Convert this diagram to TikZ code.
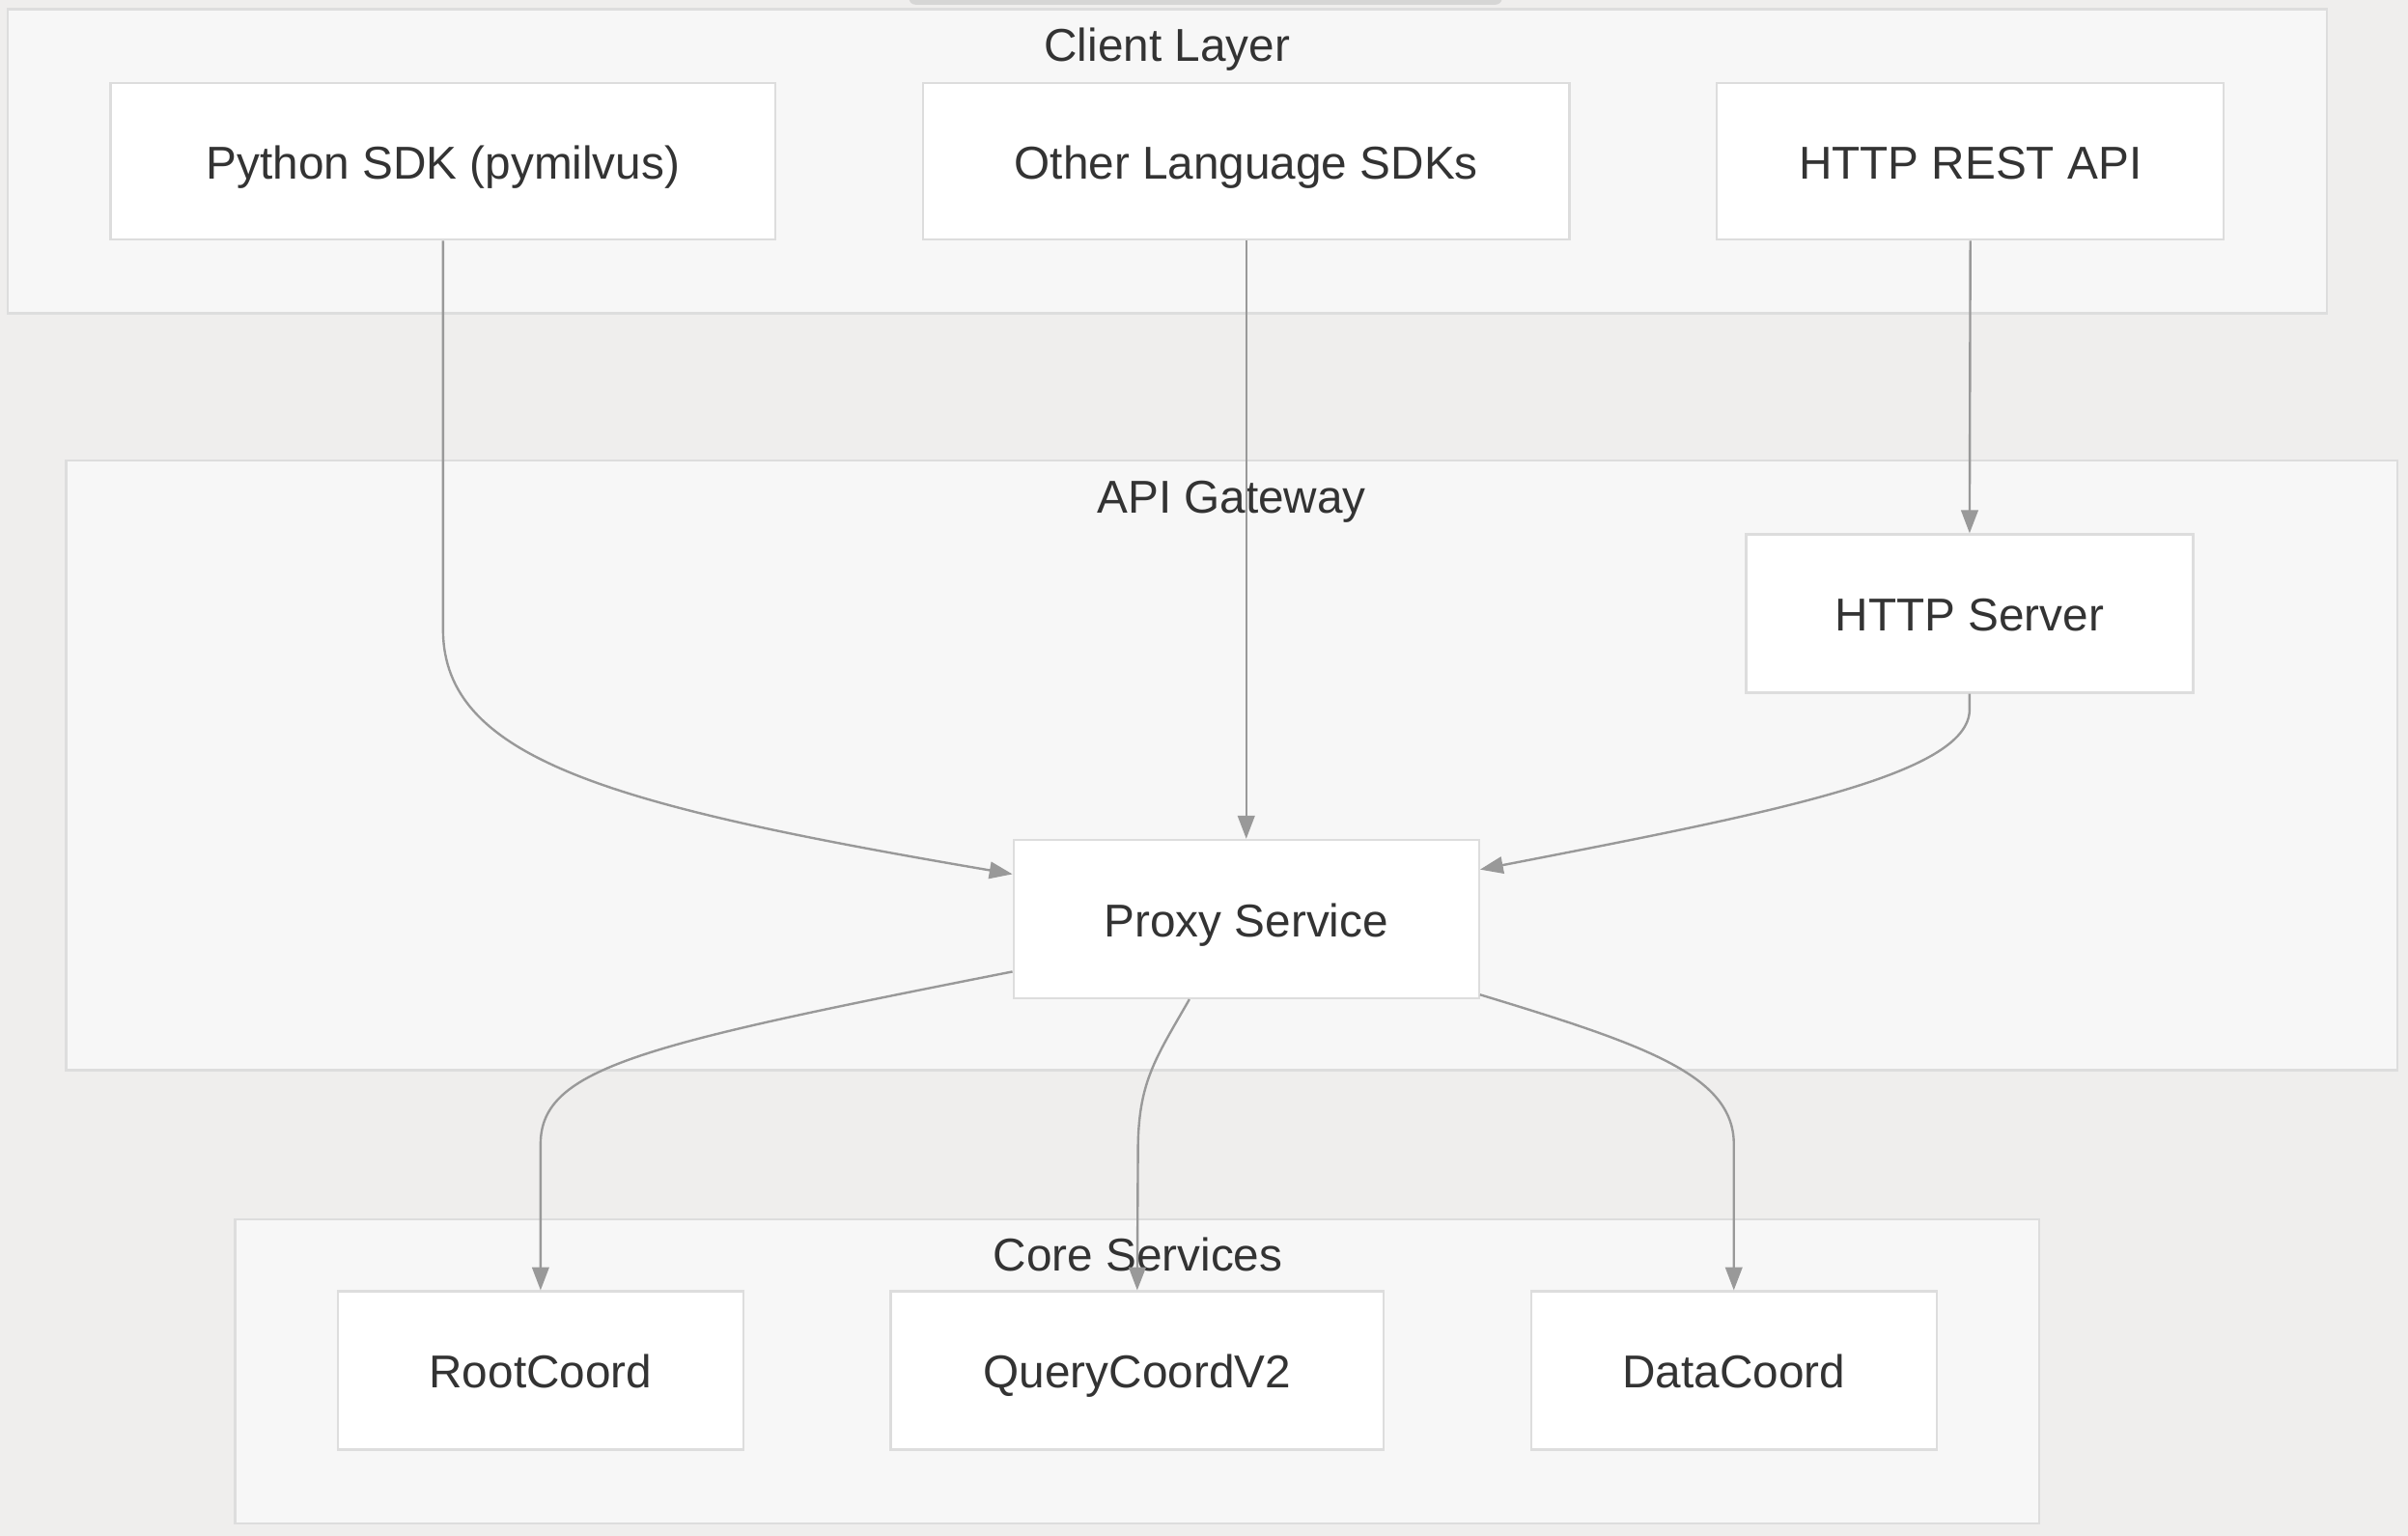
\documentclass[tikz,border=0pt]{standalone}
\usepackage{fontspec}
\setmainfont{Liberation Sans}
\usetikzlibrary{arrows.meta}
\definecolor{bgc}{HTML}{EFEEED}
\definecolor{clfill}{HTML}{F7F7F7}
\definecolor{clborder}{HTML}{DDDDDD}
\definecolor{nodeborder}{HTML}{DDDDDD}
\definecolor{txt}{HTML}{333333}
\definecolor{edgec}{HTML}{999999}
\begin{document}
\begin{tikzpicture}[x=1pt,y=-1pt,
  cluster/.style={draw=clborder, fill=clfill, line width=1.5pt, inner sep=0pt},
  box/.style={draw=nodeborder, fill=white, line width=1.5pt, inner sep=0pt,
    text height=23pt, text depth=0pt,
    font=\fontsize{30}{36}\selectfont, text=txt},
  title/.style={inner sep=0pt, anchor=base, font=\fontsize{30}{36}\selectfont, text=txt},
  edge/.style={draw=edgec, line width=1.5pt, -{Triangle[length=15pt,width=11pt]}}]
\useasboundingbox (0,0) rectangle (1568,1000);
\fill[bgc] (0,0) rectangle (1568,1000);
\fill[black!25, opacity=0.5, rounded corners=4pt] (592,-8) rectangle (978,3);
% clusters
\node[cluster, minimum width=1510pt, minimum height=198pt] (client) at (760,105) {};
\node[cluster, minimum width=1518pt, minimum height=397pt] (gateway) at (802,498.5) {};
\node[cluster, minimum width=1175pt, minimum height=198pt] (core) at (740.5,893) {};
\node[title] (tclient) at (760,40) {Client Layer};
\node[title] (tgateway) at (802,334) {API Gateway};
\node[title] (tcore) at (741,828) {Core Services};
% nodes
\node[box, minimum width=433pt, minimum height=102pt] (py) at (288.5,105) {Python SDK (pymilvus)};
\node[box, minimum width=421pt, minimum height=102pt] (other) at (811.5,105) {Other Language SDKs};
\node[box, minimum width=330pt, minimum height=102pt] (rest) at (1283,105) {HTTP REST API};
\node[box, minimum width=291pt, minimum height=103pt] (hs) at (1282.5,399.5) {HTTP Server};
\node[box, minimum width=303pt, minimum height=103pt] (proxy) at (811.5,598.5) {Proxy Service};
\node[box, minimum width=264pt, minimum height=103pt] (root) at (352,892.5) {RootCoord};
\node[box, minimum width=321pt, minimum height=103pt] (qc) at (740.5,892.5) {QueryCoordV2};
\node[box, minimum width=264pt, minimum height=103pt] (dc) at (1129,892.5) {DataCoord};
% edges
\draw[edge] (py.south) -- (288.5,410) .. controls (288.5,495) and (400,525) .. ([yshift=-23pt]proxy.north west);
\draw[edge] (other.south) -- (proxy.north);
\draw[edge] (rest.south) -- (hs.north);
\draw[edge] (hs.south) -- (1282.5,462) .. controls (1282.5,505) and (1150,530) .. ([yshift=-20pt]proxy.north east);
\draw[edge] ([yshift=18pt]proxy.south west) .. controls (420,680) and (352,695) .. (352,745) -- (root.north);
\draw[edge] ([xshift=-37pt]proxy.south) .. controls (752,690) and (741,705) .. (741,750) -- (qc.north);
\draw[edge] ([yshift=3pt]proxy.south east) .. controls (1070,680) and (1129,700) .. (1129,745) -- (dc.north);
\end{tikzpicture}
\end{document}
